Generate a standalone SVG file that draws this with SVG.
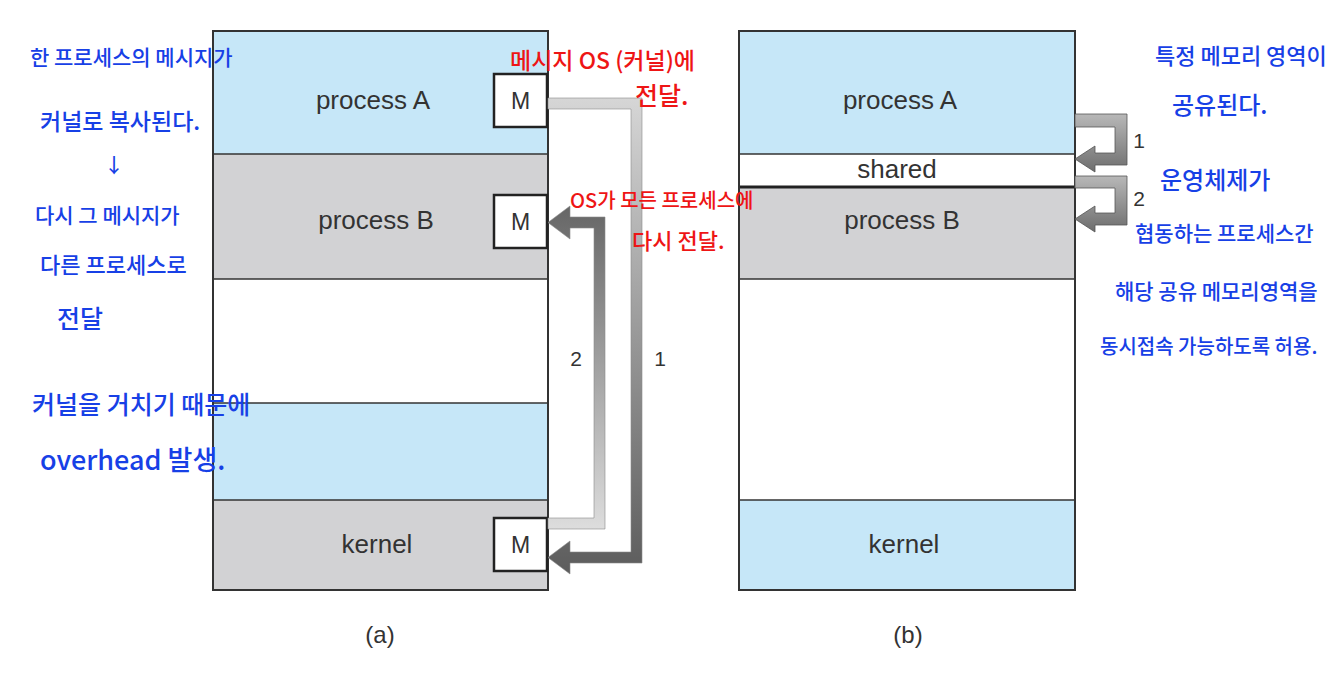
<svg xmlns="http://www.w3.org/2000/svg" width="1340" height="697" viewBox="0 0 1340 697">
<style>
.lbl{font-family:"Liberation Sans",Arial,sans-serif;font-size:26px;fill:#333;text-anchor:middle}
.m{font-family:"Liberation Sans",Arial,sans-serif;font-size:23px;fill:#333;text-anchor:middle}
.num{font-family:"Liberation Sans",Arial,sans-serif;font-size:21px;fill:#333;text-anchor:middle}
.cap{font-family:"Liberation Sans",Arial,sans-serif;font-size:24px;fill:#333;text-anchor:middle}
.blue{fill:#c6e7f8}
.gray{fill:#d2d2d4}
.white{fill:#fff}
.sep{stroke:#333;stroke-width:1.5}
.frame{fill:none;stroke:#333;stroke-width:2}
.mbox{fill:#fff;stroke:#222;stroke-width:2.5}
.bn{font-family:"Noto Sans CJK KR","Noto Sans",sans-serif;fill:#1740e6;font-weight:500}
.rn{font-family:"Noto Sans CJK KR","Noto Sans",sans-serif;fill:#ee1515;font-weight:500}
</style>
<defs>
<linearGradient id="g1" gradientUnits="userSpaceOnUse" x1="0" y1="98" x2="0" y2="574">
<stop offset="0" stop-color="#d6d6d6"/><stop offset="1" stop-color="#5c5c5c"/>
</linearGradient>
<linearGradient id="g2" gradientUnits="userSpaceOnUse" x1="0" y1="529" x2="0" y2="206">
<stop offset="0" stop-color="#dddddd"/><stop offset="1" stop-color="#666666"/>
</linearGradient>
<linearGradient id="g3" gradientUnits="userSpaceOnUse" x1="0" y1="114" x2="0" y2="172">
<stop offset="0" stop-color="#b8b8b8"/><stop offset="1" stop-color="#6e6e6e"/>
</linearGradient>
<linearGradient id="g4" gradientUnits="userSpaceOnUse" x1="0" y1="176" x2="0" y2="231">
<stop offset="0" stop-color="#b8b8b8"/><stop offset="1" stop-color="#6e6e6e"/>
</linearGradient>
</defs>
<rect x="0" y="0" width="1340" height="697" fill="#fff"/>

<!-- Diagram (a) -->
<g id="a-processA"><rect class="blue" x="213" y="31" width="335" height="123"/><text class="lbl" x="373" y="109">process A</text></g>
<g id="a-processB"><rect class="gray" x="213" y="154" width="335" height="125"/><text class="lbl" x="376" y="229">process B</text></g>
<g id="a-free"><rect class="white" x="213" y="279" width="335" height="124"/></g>
<g id="a-blue"><rect class="blue" x="213" y="403" width="335" height="97"/></g>
<g id="a-kernel"><rect class="gray" x="213" y="500" width="335" height="90"/><text class="lbl" x="377" y="553">kernel</text></g>
<g id="a-lines">
<line class="sep" x1="213" y1="154" x2="548" y2="154"/>
<line class="sep" x1="213" y1="279" x2="548" y2="279"/>
<line class="sep" x1="213" y1="403" x2="548" y2="403"/>
<line class="sep" x1="213" y1="500" x2="548" y2="500"/>
<rect class="frame" x="213" y="31" width="335" height="559"/>
</g>
<g id="a-MA"><rect class="mbox" x="494" y="74" width="53" height="53"/><text class="m" x="520.5" y="109">M</text></g>
<g id="a-MB"><rect class="mbox" x="494" y="195" width="53" height="53"/><text class="m" x="520.5" y="230">M</text></g>
<g id="a-MK"><rect class="mbox" x="494" y="518" width="53" height="53"/><text class="m" x="520.5" y="553">M</text></g>
<g id="a-caption"><text class="cap" x="380" y="643">(a)</text></g>

<!-- Diagram (b) -->
<g id="b-processA"><rect class="blue" x="739" y="31" width="336" height="123"/><text class="lbl" x="900" y="109">process A</text></g>
<g id="b-shared"><rect class="white" x="739" y="154" width="336" height="33"/><text class="lbl" x="897" y="178">shared</text></g>
<g id="b-processB"><rect class="gray" x="739" y="187" width="336" height="92"/><text class="lbl" x="902" y="229">process B</text></g>
<g id="b-free"><rect class="white" x="739" y="279" width="336" height="221"/></g>
<g id="b-kernel"><rect class="blue" x="739" y="500" width="336" height="90"/><text class="lbl" x="904" y="553">kernel</text></g>
<g id="b-lines">
<line class="sep" x1="739" y1="154" x2="1075" y2="154"/>
<line x1="739" y1="187" x2="1075" y2="187" stroke="#222" stroke-width="3"/>
<line class="sep" x1="739" y1="279" x2="1075" y2="279"/>
<line class="sep" x1="739" y1="500" x2="1075" y2="500"/>
<rect class="frame" x="739" y="31" width="336" height="559"/>
</g>
<g id="b-caption"><text class="cap" x="908" y="643">(b)</text></g>

<!-- Connectors -->
<g id="connectors">
<polygon fill="url(#g1)" stroke="#8a8a8a" stroke-width="0.6" points="548,98 642,98 642,563 570,563 570,574 548,557.5 570,541 570,552 631,552 631,109 548,109"/>
<polygon fill="url(#g2)" stroke="#8a8a8a" stroke-width="0.6" points="548,518 594,518 594,228 570,228 570,239 548,222.5 570,206 570,217 605,217 605,529 548,529"/>
<text class="num" x="576" y="366">2</text>
<text class="num" x="660" y="366">1</text>
<polygon fill="url(#g3)" stroke="#555" stroke-width="0.8" points="1075,114 1127,114 1127,165 1095,165 1095,172 1075,159 1095,146 1095,153 1115,153 1115,127 1075,127"/>
<polygon fill="url(#g4)" stroke="#555" stroke-width="0.8" points="1075,176 1127,176 1127,225 1095,225 1095,232 1075,219 1095,206 1095,213 1115,213 1115,188 1075,188"/>
<text class="num" x="1139" y="148">1</text>
<text class="num" x="1139" y="206">2</text>
</g>

<!-- Handwritten notes -->
<g id="notes-left">
<text class="bn" x="30" y="65" font-size="21">한 프로세스의 메시지가</text>
<text class="bn" x="40" y="130" font-size="23">커널로 복사된다.</text>
<text class="bn" x="104" y="173" font-size="20">↓</text>
<text class="bn" x="35" y="223" font-size="21">다시 그 메시지가</text>
<text class="bn" x="40" y="273" font-size="22">다른 프로세스로</text>
<text class="bn" x="57" y="328" font-size="25">전달</text>
<text class="bn" x="32" y="414" font-size="25">커널을 거치기 때문에</text>
<text class="bn" x="40" y="470" font-size="27">overhead 발생.</text>
</g>
<g id="notes-red">
<text class="rn" x="510" y="69" font-size="23">메시지 OS (커널)에</text>
<text class="rn" x="635" y="105" font-size="25">전달.</text>
<text class="rn" x="570" y="208" font-size="20">OS가 모든 프로세스에</text>
<text class="rn" x="632" y="249" font-size="22">다시 전달.</text>
</g>
<g id="notes-right">
<text class="bn" x="1155" y="64" font-size="22">특정 메모리 영역이</text>
<text class="bn" x="1172" y="114" font-size="24">공유된다.</text>
<text class="bn" x="1160" y="189" font-size="24">운영체제가</text>
<text class="bn" x="1135" y="241" font-size="21">협동하는 프로세스간</text>
<text class="bn" x="1115" y="299" font-size="21">해당 공유 메모리영역을</text>
<text class="bn" x="1100" y="354" font-size="20">동시접속 가능하도록 허용.</text>
</g>
</svg>
